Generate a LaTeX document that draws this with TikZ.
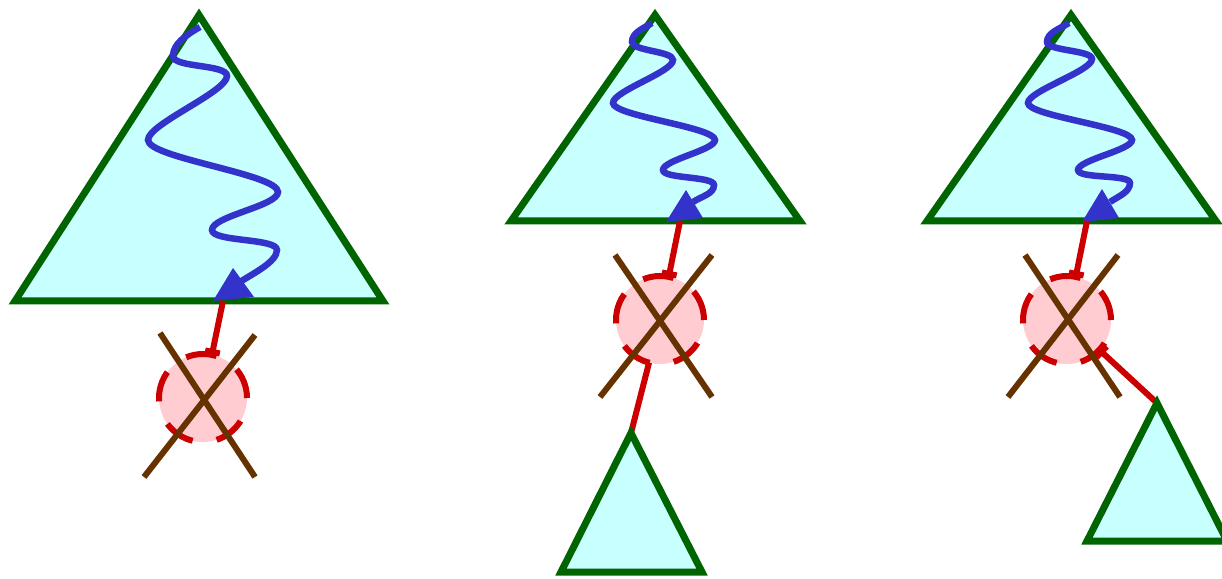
\documentclass[tikz,border=0pt]{standalone}
\usetikzlibrary{arrows.meta}
\definecolor{tfill}{HTML}{C8FFFF}
\definecolor{tgreen}{HTML}{006400}
\definecolor{wblue}{HTML}{3333CC}
\definecolor{lred}{HTML}{CC0000}
\definecolor{cpink}{HTML}{FFCCD2}
\definecolor{xbrown}{HTML}{663300}
\tikzset{teebar/.tip={Bar[width=15bp]}}
\begin{document}
\begin{tikzpicture}[x=1bp,y=-1bp,
  tri/.style={draw=tgreen, fill=tfill, line width=7bp},
  wave/.style={draw=wblue, line width=6.5bp},
  whead/.style={fill=wblue},
  link/.style={draw=lred, line width=6bp},
  xcirc/.style={circle, minimum size=88bp, inner sep=0pt, outer sep=0pt,
    fill=cpink, draw=lred, line width=6bp, dash pattern=on 31bp off 24.29bp},
  xline/.style={draw=xbrown, line width=6bp}]
\useasboundingbox (0,0) rectangle (1222,579);

% ---------- panel 1 ----------
\coordinate (t1a) at (199,15);
\coordinate (t1b) at (15,301);
\coordinate (t1c) at (383,301);
\draw[tri] (t1a) -- (t1b) -- (t1c) -- cycle;
\draw[wave] (200,27) .. controls +(-14,8) and +(0,-12) .. (173,56)
  .. controls +(0,12) and +(0,-12) .. (227,76)
  .. controls +(0,16) and +(0,-16) .. (148,140)
  .. controls +(0,18) and +(0,-18) .. (278,192)
  .. controls +(0,14) and +(0,-14) .. (212,230)
  .. controls +(0,12) and +(0,-12) .. (277,250)
  .. controls +(0,12) and +(12,-8) .. (240,282);
\fill[whead] (233,268) -- (213,301) -- (254,297) -- cycle;
\coordinate (a1) at (223,301);
\node[xcirc] (c1) at (203,398) {};
\draw[link, -{teebar}] (a1) -- (c1);
\draw[xline] (160,333) -- (255,477);
\draw[xline] (255,335) -- (144,477);

% ---------- panel 2 ----------
\coordinate (t2a) at (655,15);
\coordinate (t2b) at (511,221);
\coordinate (t2c) at (800,221);
\draw[tri] (t2a) -- (t2b) -- (t2c) -- cycle;
\draw[wave] (652,23) .. controls +(-10,6) and +(0,-9) .. (632,42)
  .. controls +(0,9) and +(0,-9) .. (673,60)
  .. controls +(0,12) and +(0,-12) .. (613,103)
  .. controls +(0,13) and +(0,-13) .. (715,140)
  .. controls +(0,10) and +(0,-10) .. (663,170)
  .. controls +(0,9) and +(0,-9) .. (714,185)
  .. controls +(0,9) and +(9,-6) .. (693,202);
\fill[whead] (686,190) -- (666,222) -- (703,218) -- cycle;
\coordinate (a2) at (680,221);
\node[xcirc] (c2) at (660,320) {};
\coordinate (s2a) at (631,433);
\coordinate (s2b) at (561,572);
\coordinate (s2c) at (702,572);
\draw[link, -{teebar}] (a2) -- (c2);
\draw[link] (c2) -- (s2a);
\draw[tri] (s2a) -- (s2b) -- (s2c) -- cycle;
\draw[xline] (615,255) -- (712,397);
\draw[xline] (712,255) -- (600,397);

% ---------- panel 3 ----------
\coordinate (t3a) at (1071,15);
\coordinate (t3b) at (927,221);
\coordinate (t3c) at (1216,221);
\draw[tri] (t3a) -- (t3b) -- (t3c) -- cycle;
\draw[wave] (1069,23) .. controls +(-10,6) and +(0,-9) .. (1047,42)
  .. controls +(0,9) and +(0,-9) .. (1092,59)
  .. controls +(0,12) and +(0,-12) .. (1028,103)
  .. controls +(0,13) and +(0,-13) .. (1132,140)
  .. controls +(0,10) and +(0,-10) .. (1078,170)
  .. controls +(0,9) and +(0,-9) .. (1130,183)
  .. controls +(0,9) and +(9,-6) .. (1110,202);
\fill[whead] (1102,189) -- (1082,222) -- (1119,218) -- cycle;
\coordinate (a3) at (1087,221);
\node[xcirc] (c3) at (1067,320) {};
\coordinate (s3a) at (1157,403);
\coordinate (s3b) at (1087,541);
\coordinate (s3c) at (1227,541);
\draw[link, {teebar}-] (c3) -- (s3a);
\draw[link, -{teebar}] (a3) -- (c3);
\draw[tri] (s3a) -- (s3b) -- (s3c) -- cycle;
\draw[xline] (1025,255) -- (1120,397);
\draw[xline] (1118,255) -- (1008,397);
\end{tikzpicture}
\end{document}
